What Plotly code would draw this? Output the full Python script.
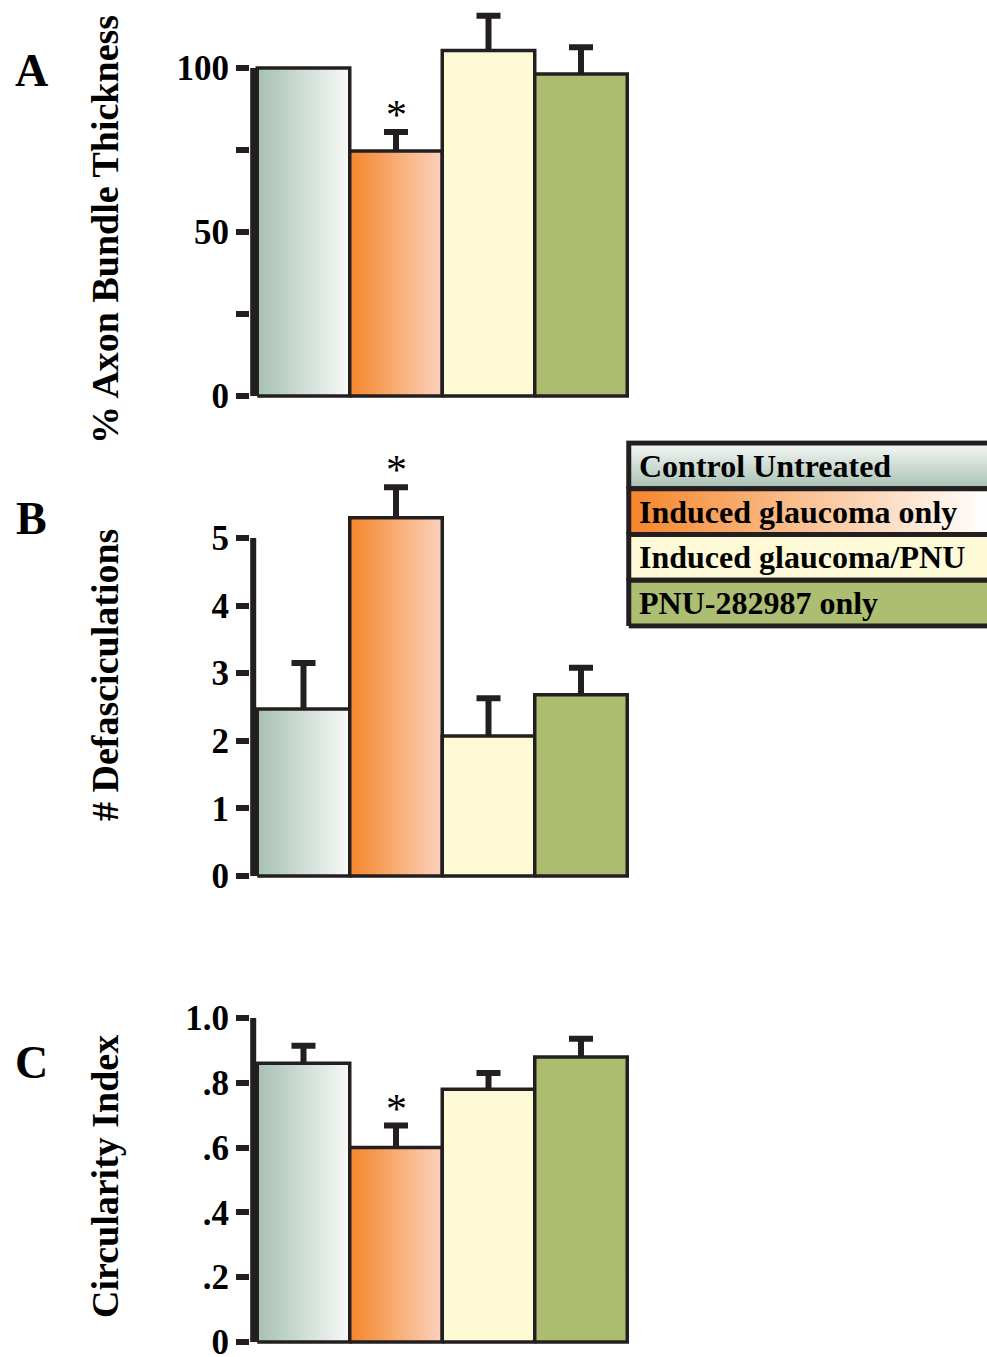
import plotly.graph_objects as go

W, H = 987, 1357
DARK = "#231f20"
SERIF = "Liberation Serif"

# ---------------- data ----------------
groups = ["Control Untreated", "Induced glaucoma only", "Induced glaucoma/PNU", "PNU-282987 only"]

thickness_mean = [100, 74.7, 105.3, 98.2]
thickness_err = [0, 5.8, 10.6, 8.1]

defasc_mean = [2.47, 5.3, 2.07, 2.68]
defasc_err = [0.68, 0.45, 0.56, 0.4]

circ_mean = [0.86, 0.60, 0.78, 0.88]
circ_err = [0.054, 0.068, 0.05, 0.056]

significant = [False, True, False, False]

a_tickvals = [0, 25, 50, 75, 100]
a_ticktext = ["0", "", "50", "", "100"]
b_tickvals = [0, 1, 2, 3, 4, 5]
b_ticktext = ["0", "1", "2", "3", "4", "5"]
c_tickvals = [0, 0.2, 0.4, 0.6, 0.8, 1.0]
c_ticktext = ["0", ".2", ".4", ".6", ".8", "1.0"]

# fill styles per group: (gradient type or None, colour 1, colour 2)
bar_fills = [
    ("horizontal", "#a7c1b3", "#f8f9f7"),
    ("horizontal", "#f5862a", "#fbd2bd"),
    (None, "#fefad6", "#fefad6"),
    (None, "#adbd70", "#adbd70"),
]
legend_fills = [
    ("vertical", "#a8c0b3", "#f6f8f6"),
    ("horizontal", "#f5852a", "#ffffff"),
    (None, "#fefad8", "#fefad8"),
    (None, "#adbd72", "#adbd72"),
]

# ---------------- layout geometry (pixels) ----------------
BAR_W_PX = 92.5
FIRST_CENTER_PX = 303.5
X_LEFT_PX = 250
X_RIGHT_PX = 634
x_range = [(X_LEFT_PX - FIRST_CENTER_PX) / BAR_W_PX, (X_RIGHT_PX - FIRST_CENTER_PX) / BAR_W_PX]
x_domain = [X_LEFT_PX / W, X_RIGHT_PX / W]
axis_line_x = x_range[0] + 3.2 / BAR_W_PX
STEM_HIDE_PX = 5  # error stem starts just inside the bar so its foot is hidden

panels = [
    dict(mean=thickness_mean, err=thickness_err, tv=a_tickvals, tt=a_ticktext,
         p0=396, ptop=68, rng=[-1.6, 119], title="% Axon Bundle Thickness",
         title_y=230, letter="A", letter_y=71),
    dict(mean=defasc_mean, err=defasc_err, tv=b_tickvals, tt=b_ticktext,
         p0=876, ptop=538, rng=[-0.08, 6.3], title="# Defasciculations",
         title_y=675, letter="B", letter_y=518),
    dict(mean=circ_mean, err=circ_err, tv=c_tickvals, tt=c_ticktext,
         p0=1342, ptop=1018, rng=[-0.016, 1.02], title="Circularity Index",
         title_y=1177, letter="C", letter_y=1062),
]

fig = go.Figure()
annotations = []
layout = {}


def gradient_kw(kind, c1, c2, start=None, stop=None):
    if kind is None:
        return dict(fillcolor=c1)
    g = dict(type=kind, colorscale=[[0, c1], [1, c2]])
    if start is not None:
        g["start"] = start
        g["stop"] = stop
    return dict(fillgradient=g)


for i, p in enumerate(panels):
    sfx = "" if i == 0 else str(i + 1)
    xa, ya = "x" + sfx, "y" + sfx
    tickmax = max(p["tv"])
    s = (p["p0"] - p["ptop"]) / tickmax
    top_px = p["p0"] - p["rng"][1] * s
    bot_px = p["p0"] - p["rng"][0] * s
    layout["xaxis" + sfx] = dict(domain=x_domain, range=x_range, anchor=ya, automargin=False,
                                 showticklabels=False, showgrid=False, zeroline=False,
                                 showline=False, ticks="", fixedrange=True)
    layout["yaxis" + sfx] = dict(domain=[1 - bot_px / H, 1 - top_px / H], range=p["rng"],
                                 anchor=xa, tickvals=p["tv"], ticktext=p["tt"], automargin=False,
                                 ticks="outside", ticklen=13, tickwidth=6, tickcolor=DARK,
                                 showgrid=False, zeroline=False, showline=False,
                                 tickfont=dict(family=SERIF, size=35, color="black", weight="bold"),
                                 ticklabelstandoff=0, ticklabeloverflow="allow", fixedrange=True)

    # vertical axis line (spans tick range only)
    fig.add_trace(go.Scatter(x=[axis_line_x, axis_line_x], y=[0, tickmax], mode="lines",
                             line=dict(color=DARK, width=6), xaxis=xa, yaxis=ya,
                             showlegend=False, hoverinfo="skip"))

    # upward error bars (drawn first so the bars cover their foot)
    idx = [k for k, e in enumerate(p["err"]) if e > 0]
    fig.add_trace(go.Scatter(
        x=idx, y=[p["mean"][k] for k in idx], mode="markers",
        marker=dict(size=1, opacity=0),
        error_y=dict(type="data", symmetric=False, array=[p["err"][k] for k in idx],
                     arrayminus=[STEM_HIDE_PX / s] * len(idx), thickness=6, width=12, color=DARK),
        xaxis=xa, yaxis=ya, showlegend=False, hoverinfo="skip"))

    # bars as filled rectangles (to allow gradients)
    for k, (v, fill) in enumerate(zip(p["mean"], bar_fills)):
        fig.add_trace(go.Scatter(
            x=[k - 0.5, k + 0.5, k + 0.5, k - 0.5, k - 0.5],
            y=[0, 0, v, v, 0],
            mode="lines", fill="toself", line=dict(color=DARK, width=3.5),
            xaxis=xa, yaxis=ya, showlegend=False, name=groups[k],
            hovertemplate=groups[k] + ": %{y}<extra></extra>",
            **gradient_kw(*fill)))

    # significance stars
    for k, sig in enumerate(significant):
        if sig:
            annotations.append(dict(x=k, y=p["mean"][k] + p["err"][k], xref=xa, yref=ya,
                                    text="*", showarrow=False, yanchor="bottom", yshift=-8,
                                    font=dict(family=SERIF, size=42, color="black")))

    # axis title & panel letter
    annotations.append(dict(x=105 / W, y=1 - p["title_y"] / H, xref="paper", yref="paper",
                            text=p["title"], textangle=-90, showarrow=False,
                            xanchor="center", yanchor="middle",
                            font=dict(family=SERIF, size=38, color="black", weight="bold")))
    annotations.append(dict(x=31 / W, y=1 - p["letter_y"] / H, xref="paper", yref="paper",
                            text=p["letter"], showarrow=False, xanchor="center", yanchor="middle",
                            font=dict(family=SERIF, size=46, color="black", weight="bold")))

# ---------------- legend (drawn as its own hidden subplot) ----------------
LEG_X0_PX = 618
LEG_TOP_PX, LEG_BOT_PX = 443, 626
row_px = (LEG_BOT_PX - LEG_TOP_PX) / 4
leg_rng_y = [-0.06, 4.06]
layout["xaxis4"] = dict(domain=[LEG_X0_PX / W, 1], range=[-0.03, 1], anchor="y4",
                        visible=False, fixedrange=True, automargin=False)
layout["yaxis4"] = dict(domain=[1 - (LEG_BOT_PX - leg_rng_y[0] * row_px) / H,
                                1 - (LEG_TOP_PX - (leg_rng_y[1] - 4) * row_px) / H],
                        range=leg_rng_y, anchor="x4", visible=False, fixedrange=True,
                        automargin=False)

for r, (name, fill) in enumerate(zip(groups, legend_fills)):
    y0, y1 = 3 - r, 4 - r
    kind = fill[0]
    if kind == "vertical":
        gk = gradient_kw(kind, fill[1], fill[2], start=y0, stop=y1)
    elif kind == "horizontal":
        gk = gradient_kw(kind, fill[1], fill[2], start=0, stop=1)
    else:
        gk = gradient_kw(*fill)
    fig.add_trace(go.Scatter(x=[0, 1.2, 1.2, 0, 0], y=[y0, y0, y1, y1, y0], mode="lines",
                             fill="toself", line=dict(color=DARK, width=5),
                             xaxis="x4", yaxis="y4", showlegend=False, hoverinfo="skip", **gk))
    annotations.append(dict(x=0.022, y=(y0 + y1) / 2, xref="x4", yref="y4", text=name,
                            showarrow=False, xanchor="left", yanchor="middle",
                            font=dict(family=SERIF, size=32, color="black", weight="bold")))

fig.update_layout(width=W, height=H, margin=dict(l=0, r=0, t=0, b=0, pad=0, autoexpand=False),
                  paper_bgcolor="white", plot_bgcolor="rgba(0,0,0,0)",
                  showlegend=False, annotations=annotations, **layout)

fig.write_html("out.html", config={"displayModeBar": False},
               post_script="document.body.style.margin='0px';document.body.style.overflow='hidden';")
